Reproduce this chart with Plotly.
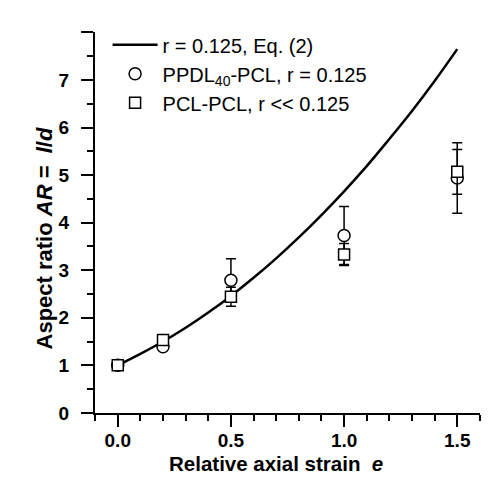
import plotly.graph_objects as go

# Model curve r = 0.125, Eq. (2)
curve_e = [0.0, 0.1, 0.2, 0.3, 0.4, 0.5, 0.6, 0.7, 0.8, 0.9, 1.0, 1.1, 1.2, 1.3, 1.4, 1.5]
curve_ar = [1.00, 1.24, 1.50, 1.79, 2.11, 2.46, 2.84, 3.25, 3.69, 4.16, 4.66, 5.19, 5.76, 6.35, 6.98, 7.65]

# PPDL40-PCL, r = 0.125 (circles)
ppdl_e = [0.0, 0.2, 0.5, 1.0, 1.5]
ppdl_ar = [1.00, 1.39, 2.79, 3.73, 4.94]
ppdl_err = [0.0, 0.0, 0.45, 0.61, 0.74]

# PCL-PCL, r << 0.125 (squares)
pcl_e = [0.0, 0.2, 0.5, 1.0, 1.5]
pcl_ar = [1.00, 1.53, 2.44, 3.33, 5.07]
pcl_err = [0.0, 0.0, 0.20, 0.23, 0.47]

x_tickvals = [0.0, 0.5, 1.0, 1.5]
x_ticktext = ["0.0", "0.5", "1.0", "1.5"]
y_tickvals = [0, 1, 2, 3, 4, 5, 6, 7, 8]
y_ticktext = ["0", "1", "2", "3", "4", "5", "6", "7", " "]

FONT = "Liberation Sans, Arial, sans-serif"

fig = go.Figure()
fig.add_trace(go.Scatter(
    x=curve_e, y=curve_ar, mode="lines", name="r = 0.125, Eq. (2)",
    line=dict(color="black", width=2.5, shape="spline"),
))
fig.add_trace(go.Scatter(
    x=ppdl_e, y=ppdl_ar, mode="markers", name="PPDL<sub>40</sub>-PCL, r = 0.125",
    marker=dict(symbol="circle", size=12, color="white", line=dict(color="black", width=1.5)),
    error_y=dict(type="data", array=ppdl_err, visible=True, color="black", thickness=1.5, width=5),
))
fig.add_trace(go.Scatter(
    x=pcl_e, y=pcl_ar, mode="markers", name="PCL-PCL, r << 0.125",
    marker=dict(symbol="square", size=11, color="white", line=dict(color="black", width=1.5)),
    error_y=dict(type="data", array=pcl_err, visible=True, color="black", thickness=1.5, width=5),
))

axis_common = dict(
    showgrid=False, zeroline=False, showline=True, linecolor="black", linewidth=2,
    ticks="outside", ticklen=12, tickwidth=2, tickcolor="black",
    tickfont=dict(family=FONT, size=19, color="black", weight="bold"),
)
fig.update_xaxes(
    range=[-0.1005, 1.6005], tickvals=x_tickvals, ticktext=x_ticktext,
    minor=dict(dtick=0.1, tick0=0, ticks="outside", ticklen=6, tickwidth=2, tickcolor="black"),
    ticklabelstandoff=-3, **axis_common,
)
fig.update_yaxes(
    range=[-0.003, 8.01], tickvals=y_tickvals, ticktext=y_ticktext,
    minor=dict(dtick=0.5, tick0=0, ticks="outside", ticklen=6, tickwidth=2, tickcolor="black"),
    ticklabelstandoff=8, **axis_common,
)

fig.add_annotation(
    text="<b>Relative axial strain&nbsp;&nbsp;<i>e</i></b>", xref="paper", yref="paper",
    x=0.471, y=-0.132, xanchor="center", yanchor="middle", showarrow=False,
    font=dict(family=FONT, size=20.5, color="black"),
)
fig.add_annotation(
    text="<b>Aspect ratio <i>AR</i> =&nbsp;&nbsp;<i>l</i>/<i>d</i></b>", xref="paper", yref="paper",
    x=-0.132, y=0.4585, xanchor="center", yanchor="middle", textangle=-90, showarrow=False,
    font=dict(family=FONT, size=22, color="black"),
)

# page body has an 8px margin, so the figure is 16px smaller and offset by 8px
fig.update_layout(
    width=480, height=468,
    margin=dict(l=87, r=8, t=24, b=63, pad=0, autoexpand=False),
    paper_bgcolor="white", plot_bgcolor="white",
    showlegend=True,
    legend=dict(
        x=0.0327, y=0.963, xref="paper", yref="container", xanchor="left", yanchor="top",
        bgcolor="rgba(0,0,0,0)", borderwidth=0,
        font=dict(family=FONT, size=20, color="black"),
        itemwidth=45, tracegroupgap=0,
    ),
)

fig.write_html("out.html")
